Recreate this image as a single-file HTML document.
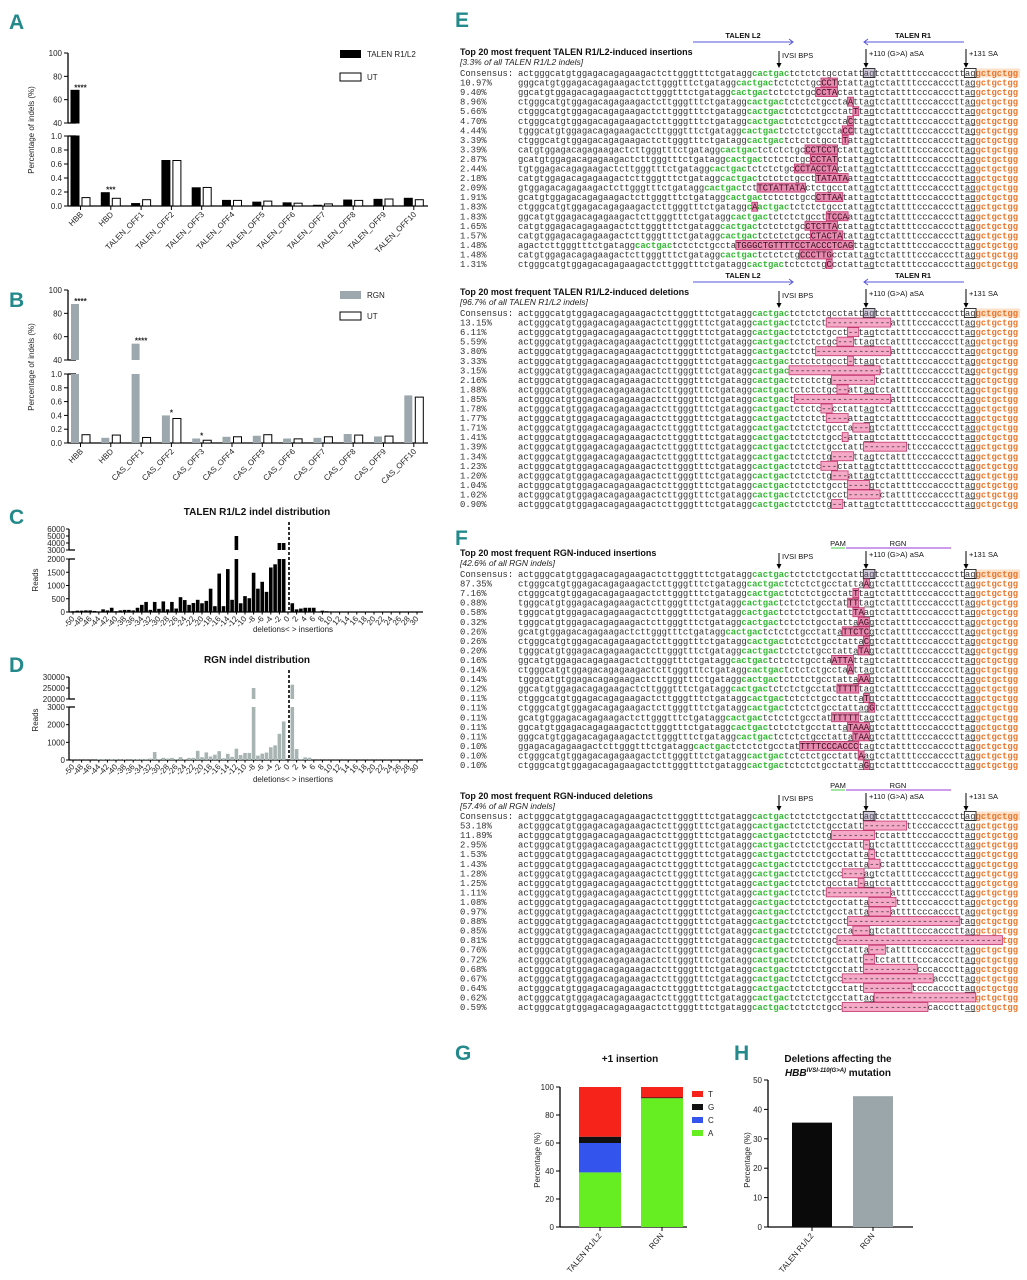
<!DOCTYPE html>
<html><head><meta charset="utf-8"><title>Indel analysis figure</title>
<style>
html,body{margin:0;padding:0;background:#fff;}
svg{display:block;font-family:"Liberation Sans",sans-serif;}
.mono{font-family:"Liberation Mono",monospace;font-size:8.87px;}
.lt{font-size:21px;font-weight:bold;fill:#23898a;}
.tk{font-size:8px;fill:#222;}
.ttl{font-size:10px;font-weight:bold;fill:#111;}
.hd{font-size:9px;font-weight:bold;fill:#111;}
.sub{font-size:8.5px;font-style:italic;fill:#222;}
.al{font-size:7.5px;fill:#111;}
</style></head>
<body>
<svg id="fig" xmlns="http://www.w3.org/2000/svg" width="1027" height="1280" viewBox="0 0 1027 1280">
<rect x="0" y="0" width="1027" height="1280" fill="#fff"/>
<!-- panel letters -->
<text class="lt" x="9" y="29">A</text>
<text class="lt" x="9" y="307">B</text>
<text class="lt" x="9" y="524">C</text>
<text class="lt" x="9" y="672">D</text>
<text class="lt" x="455" y="27">E</text>
<text class="lt" x="455" y="545">F</text>
<text class="lt" x="455" y="1060">G</text>
<text class="lt" x="734" y="1060">H</text>

<!-- legends A/B -->
<rect x="340" y="50" width="21" height="8" fill="#000"/>
<text class="tk" x="367" y="57">TALEN R1/L2</text>
<rect x="340" y="73" width="21" height="8" fill="#fff" stroke="#000"/>
<text class="tk" x="367" y="80">UT</text>
<rect x="340" y="291" width="21" height="8" fill="#9ca8ad"/>
<text class="tk" x="367" y="298">RGN</text>
<rect x="340" y="312" width="21" height="8" fill="#fff" stroke="#000"/>
<text class="tk" x="367" y="319">UT</text>
<text class="tk" transform="translate(34,130) rotate(-90)" text-anchor="middle">Percentage of indels (%)</text>
<text class="tk" transform="translate(34,367) rotate(-90)" text-anchor="middle">Percentage of indels (%)</text>

<!-- C/D titles -->
<text class="ttl" x="257" y="515" text-anchor="middle">TALEN R1/L2 indel distribution</text>
<text class="ttl" x="257" y="663" text-anchor="middle">RGN indel distribution</text>
<text class="tk" transform="translate(38,580) rotate(-90)" text-anchor="middle">Reads</text>
<text class="tk" transform="translate(38,720) rotate(-90)" text-anchor="middle">Reads</text>
<text class="tk" x="293" y="632" text-anchor="middle">deletions&lt; &gt; insertions</text>
<text class="tk" x="293" y="782" text-anchor="middle">deletions&lt; &gt; insertions</text>

<!-- E/F headers -->
<text class="hd" x="460" y="55">Top 20 most frequent TALEN R1/L2-induced insertions</text>
<text class="sub" x="460" y="65">[3.3% of all TALEN R1/L2 indels]</text>
<text class="hd" x="460" y="295">Top 20 most frequent TALEN R1/L2-induced deletions</text>
<text class="sub" x="460" y="305">[96.7% of all TALEN R1/L2 indels]</text>
<text class="hd" x="460" y="556">Top 20 most frequent RGN-induced insertions</text>
<text class="sub" x="460" y="566">[42.6% of all RGN indels]</text>
<text class="hd" x="460" y="799">Top 20 most frequent RGN-induced deletions</text>
<text class="sub" x="460" y="809">[57.4% of all RGN indels]</text>

<!-- G/H titles -->
<text class="ttl" x="630" y="1062" text-anchor="middle">+1 insertion</text>
<text class="ttl" x="838" y="1062" text-anchor="middle">Deletions affecting the</text>
<text class="ttl" x="838" y="1076" text-anchor="middle"><tspan font-style="italic">HBB</tspan><tspan font-size="6" font-style="italic" dy="-4">IVSI-110(G&gt;A)</tspan><tspan dy="4"> mutation</tspan></text>
<text class="tk" transform="translate(540,1160) rotate(-90)" text-anchor="middle">Percentage (%)</text>
<text class="tk" transform="translate(750,1160) rotate(-90)" text-anchor="middle">Percentage (%)</text>
</svg>

<script>
// ===== Panel A / B data =====
const catsA = ['HBB','HBD','TALEN_OFF1','TALEN_OFF2','TALEN_OFF3','TALEN_OFF4','TALEN_OFF5','TALEN_OFF6','TALEN_OFF7','TALEN_OFF8','TALEN_OFF9','TALEN_OFF10'];
const talenVals = [68,0.19,0.035,0.65,0.26,0.08,0.055,0.045,0.01,0.085,0.095,0.11];
const utValsA = [0.12,0.11,0.09,0.65,0.265,0.08,0.07,0.04,0.03,0.08,0.1,0.09];
const starsA = ['****','***','','','','','','','','','',''];
const catsB = ['HBB','HBD','CAS_OFF1','CAS_OFF2','CAS_OFF3','CAS_OFF4','CAS_OFF5','CAS_OFF6','CAS_OFF7','CAS_OFF8','CAS_OFF9','CAS_OFF10'];
const rgnVals = [88,0.075,54,0.4,0.065,0.09,0.105,0.065,0.075,0.13,0.095,0.69];
const utValsB = [0.12,0.115,0.08,0.355,0.04,0.09,0.12,0.06,0.09,0.115,0.1,0.665];
const starsB = ['****','','****','*','*','','','','','','',''];
const lowTicks = [0,0.2,0.4,0.6,0.8,1.0];
const highTicks = [40,60,80,100];

// ===== Panel C / D data (indel size -50..30) =====
const indelSizes = [];
for (let s = -50; s <= 30; s++) indelSizes.push(s);
const talenReads = [30,50,50,60,60,40,20,100,60,160,30,60,80,80,60,160,270,380,80,380,120,400,100,380,130,560,450,270,340,460,330,420,880,220,1450,220,1620,460,5000,330,600,520,1480,880,1140,760,1680,1800,4000,4000,0,330,100,130,160,160,160,20,50,30,10,10,10,10,10,10,10,10,10,10,10,10,10,10,10,20,10,10,10,10,10];
const rgnReads = [10,10,10,10,10,10,50,50,20,40,40,20,40,20,40,40,60,60,80,450,60,120,80,120,50,160,40,120,120,520,160,430,200,300,500,100,350,180,640,280,400,400,25000,250,360,420,720,830,1480,2180,0,26500,620,60,150,130,10,10,10,10,10,10,10,10,10,10,10,10,10,10,10,10,10,10,10,10,10,10,10,10,10];
const cLowTicks = [0,500,1000,1500,2000];
const cHighTicks = [3000,4000,5000,6000];
const dLowTicks = [0,1000,2000,3000];
const dHighTicks = [20000,25000,30000];

// ===== Panel G / H data =====
const gCats = ['TALEN R1/L2','RGN'];
const gA = [39,92];
const gC = [21,0];
const gG = [4.5,0.5];
const gT = [35.5,7.5];
const gTicks = [0,20,40,60,80,100];
const hCats = ['TALEN R1/L2','RGN'];
const hVals = [35.5,44.5];
const hTicks = [0,10,20,30,40,50];

// ===== Sequence data =====
const consensus = 'actgggcatgtggagacagagaagactcttgggtttctgataggcactgactctctctgcctattagtctattttcccacccttaggctgctgg';
const eInsPct = ['10.97%','9.40%','8.96%','5.66%','4.70%','4.44%','3.39%','3.39%','2.87%','2.44%','2.18%','2.09%','1.91%','1.83%','1.83%','1.65%','1.57%','1.48%','1.48%','1.31%'];
const eInsSeq = ['CCT','CCTA','A','T','C','CC','T','CCTCCT','CCTAT','CCTACCTA','TATATA','TCTATTATA','CTTAA','A','TCCA','CTCTTA','CTACTA','TGGGCTGTTTTCCTACCCTCAG','CCCTTG','C'];
const eInsPos = [60,60,63,64,63,63,62,60,60,60,62,54,61,45,62,60,61,63,59,59];
const eDelPct = ['13.15%','6.11%','5.59%','3.80%','3.33%','3.15%','2.16%','1.88%','1.85%','1.78%','1.77%','1.71%','1.41%','1.39%','1.34%','1.23%','1.20%','1.04%','1.02%','0.90%'];
const eDelStart = [58,62,60,56,62,51,59,60,52,57,58,63,61,65,59,57,59,62,62,59];
const eDelLen = [12,2,3,14,1,17,8,2,18,2,4,3,1,8,4,3,3,4,6,2];
const fInsPct = ['87.35%','7.16%','0.88%','0.58%','0.32%','0.26%','0.26%','0.20%','0.16%','0.14%','0.14%','0.12%','0.11%','0.11%','0.11%','0.11%','0.11%','0.10%','0.10%','0.10%'];
const fInsSeq = ['A','T','TT','TA','AG','TTCTC','C','TA','ATTA','A','AA','TTTT','T','G','TTTTT','TAAA','TAA','TTTTCCCACCC','A','G'];
const fInsPos = [66,64,64,65,66,66,66,66,63,63,66,64,66,67,64,66,66,64,65,66];
const fDelPct = ['53.18%','11.89%','2.95%','1.53%','1.43%','1.28%','1.25%','1.11%','1.08%','0.97%','0.88%','0.85%','0.81%','0.76%','0.72%','0.68%','0.67%','0.64%','0.62%','0.59%'];
const fDelStart = [65,59,65,66,66,61,64,58,66,66,62,63,60,66,65,65,61,65,67,61];
const fDelLen = [8,8,1,1,2,4,1,12,5,4,21,3,31,3,2,10,17,9,19,16];

const NS = 'http://www.w3.org/2000/svg';
const svg = document.getElementById('fig');
function mk(tag, a) { const e = document.createElementNS(NS, tag); for (const k in a) e.setAttribute(k, a[k]); svg.appendChild(e); return e; }
function tx(str, a) { const e = mk('text', a); e.textContent = str; return e; }

// ===== A/B bar chart =====
function barChart(cats, v1, v2, stars, fill1, top, y40, y1, y0, pre) {
  const xAx = 68, xEnd = 428;
  const lowScale = (y0 - y1);
  const hiScale = (y40 - top) / 60;
  const yLow = v => y0 - v * lowScale;
  const yHigh = v => y40 - (v - 40) * hiScale;
  let e;
  e = mk('line', {x1:xAx, y1:top, x2:xAx, y2:y40, stroke:'#000', 'stroke-width':1.3});
  
  
  e = mk('line', {x1:xAx, y1:y1, x2:xAx, y2:y0, stroke:'#000', 'stroke-width':1.3});
  
  
  e = mk('line', {x1:xAx, y1:y0, x2:xEnd, y2:y0, stroke:'#000', 'stroke-width':1.3});
  
  
  lowTicks.forEach(t => {
    const y = yLow(t);
    e = mk('line', {x1:xAx-4, y1:y, x2:xAx, y2:y, stroke:'#000'});
    
    
    e = tx(t.toFixed(1), {x:xAx-6, y:y+3, 'text-anchor':'end', class:'tk'});
    
    
  });
  highTicks.forEach(t => {
    const y = yHigh(t);
    e = mk('line', {x1:xAx-4, y1:y, x2:xAx, y2:y, stroke:'#000'});
    
    
    e = tx(String(t), {x:xAx-6, y:y+3, 'text-anchor':'end', class:'tk'});
    
    
  });
  [y40, y1].forEach(y => {
    e = mk('line', {x1:xAx, y1:y, x2:xAx+8, y2:y, stroke:'#000', 'stroke-width':1.3});
    
    
  });
  const step = 30.3;
  cats.forEach((c, i) => {
    const bx = 71 + i * step, ux = bx + 11, w = 8, cx = bx + 9.5;
    const drawBar = (x, v, f, st, nm) => {
      if (v <= 1) {
        e = mk('rect', {x:x, y:yLow(v), width:w, height:y0 - yLow(v), fill:f, stroke:st, 'stroke-width':1});
        
        
      } else {
        e = mk('rect', {x:x, y:y1, width:w, height:y0 - y1, fill:f, stroke:st, 'stroke-width':1});
        
        
        e = mk('rect', {x:x, y:yHigh(v), width:w, height:y40 - yHigh(v), fill:f, stroke:st, 'stroke-width':1});
        
        
      }
    };
    drawBar(bx, v1[i], fill1, fill1 === '#000' ? '#000' : 'none', pre + '-bar-treated-' + c.toLowerCase());
    drawBar(ux, v2[i], '#fff', '#000', pre + '-bar-ut-' + c.toLowerCase());
    e = mk('line', {x1:cx, y1:y0, x2:cx, y2:y0+4, stroke:'#000'});
    
    
    e = tx(c, {x:cx+3, y:y0+9, 'text-anchor':'end', class:'tk', transform:'rotate(-45 ' + (cx+3) + ' ' + (y0+9) + ')'});
    
    
    if (stars[i]) {
      const v = Math.max(v1[i], v2[i]);
      const yy = (v1[i] <= 1 ? yLow(v1[i]) : yHigh(v1[i])) - 3;
      e = tx(stars[i], {x:cx, y:yy + 3, 'text-anchor':'middle', class:'tk', 'font-weight':'bold'});
      
      
    }
  });
}
barChart(catsA, talenVals, utValsA, starsA, '#000', 53, 123, 136, 206, 'a');
barChart(catsB, rgnVals, utValsB, starsB, '#9ca8ad', 290, 360, 374, 443, 'b');

// ===== C/D histograms =====
function hist(vals, lowT, highT, lowMax, hiMin, hiMax, yHiTop, yHiBot, yLowTop, y0, col, pre, titleTop) {
  const xAx = 69, xEnd = 423;
  const xs = s => 73 + (s + 50) * 4.3;
  const yLow = v => y0 - v * (y0 - yLowTop) / lowMax;
  const yHigh = v => yHiBot - (v - hiMin) * (yHiBot - yHiTop) / (hiMax - hiMin);
  let e;
  e = mk('line', {x1:xAx, y1:yHiTop, x2:xAx, y2:yHiBot, stroke:'#000', 'stroke-width':1.3});
  
  
  e = mk('line', {x1:xAx, y1:yLowTop, x2:xAx, y2:y0, stroke:'#000', 'stroke-width':1.3});
  
  
  e = mk('line', {x1:xAx, y1:y0, x2:xEnd, y2:y0, stroke:'#000', 'stroke-width':1.3});
  
  
  [yHiBot, yLowTop].forEach(y => {
    e = mk('line', {x1:xAx, y1:y, x2:xAx+6, y2:y, stroke:'#000', 'stroke-width':1.3});
    
    
  });
  lowT.forEach(t => {
    const y = yLow(t);
    e = mk('line', {x1:xAx-3, y1:y, x2:xAx, y2:y, stroke:'#000'});
    
    
    e = tx(String(t), {x:xAx-4, y:y+3, 'text-anchor':'end', class:'tk'});
    
    
  });
  highT.forEach(t => {
    const y = yHigh(t);
    e = mk('line', {x1:xAx-3, y1:y, x2:xAx, y2:y, stroke:'#000'});
    
    
    e = tx(String(t), {x:xAx-4, y:y+3, 'text-anchor':'end', class:'tk'});
    
    
  });
  indelSizes.forEach((s, i) => {
    const v = vals[i], x = xs(s) - 1.8, w = 3.6;
    if (v <= lowMax) {
      e = mk('rect', {x:x, y:yLow(v), width:w, height:y0 - yLow(v), fill:col});
      
      
    } else {
      e = mk('rect', {x:x, y:yLowTop, width:w, height:y0 - yLowTop, fill:col});
      
      
      e = mk('rect', {x:x, y:yHigh(v), width:w, height:yHiBot - yHigh(v), fill:col});
      
      
    }
    if (s % 2 === 0) {
      const xx = xs(s);
      e = mk('line', {x1:xx, y1:y0, x2:xx, y2:y0+2.5, stroke:'#000'});
      
      
      e = tx(String(s), {x:xx+2, y:y0+7, 'text-anchor':'end', class:'tk', 'font-size':'7', transform:'rotate(-50 ' + (xx+2) + ' ' + (y0+7) + ')'});
      
      
    }
  });
  e = mk('line', {x1:xs(0)+1, y1:titleTop, x2:xs(0)+1, y2:y0, stroke:'#000', 'stroke-width':1.6, 'stroke-dasharray':'3,2'});
  
  
}
hist(talenReads, cLowTicks, cHighTicks, 2000, 3000, 6000, 529, 550, 559, 612, '#000', 'c', 522);
hist(rgnReads, dLowTicks, dHighTicks, 3000, 20000, 30000, 677, 699, 707, 760, '#a8b4b2', 'd', 670);

// ===== G stacked bars =====
(function(){
  const xAx = 560, y0 = 1227, yv = v => y0 - v * 1.4;
  let e;
  e = mk('line', {x1:xAx, y1:yv(100), x2:xAx, y2:y0, stroke:'#000', 'stroke-width':1.3});
  
  
  e = mk('line', {x1:xAx, y1:y0, x2:687, y2:y0, stroke:'#000', 'stroke-width':1.3});
  
  
  gTicks.forEach(t => {
    e = mk('line', {x1:xAx-4, y1:yv(t), x2:xAx, y2:yv(t), stroke:'#000'});
    
    
    e = tx(String(t), {x:xAx-6, y:yv(t)+3, 'text-anchor':'end', class:'tk'});
    
    
  });
  const series = [['A', gA, '#66ee22'], ['C', gC, '#3355ee'], ['G', gG, '#111'], ['T', gT, '#f5231a']];
  const bxs = [579, 641];
  gCats.forEach((c, i) => {
    let acc = 0;
    series.forEach(s => {
      const v = s[1][i];
      e = mk('rect', {x:bxs[i], y:yv(acc + v), width:42, height:v * 1.4, fill:s[2]});
      
      
      acc += v;
    });
    const cx = bxs[i] + 21;
    e = mk('line', {x1:cx, y1:y0, x2:cx, y2:y0+4, stroke:'#000'});
    
    
    e = tx(c, {x:cx+2, y:y0+9, 'text-anchor':'end', class:'tk', transform:'rotate(-50 ' + (cx+2) + ' ' + (y0+9) + ')'});
    
    
  });
  const leg = [['T','#f5231a'],['G','#111'],['C','#3355ee'],['A','#66ee22']];
  leg.forEach((l, i) => {
    const y = 1091 + i * 13;
    e = mk('rect', {x:692, y:y, width:11, height:6, fill:l[1]});
    
    
    e = tx(l[0], {x:708, y:y+6, class:'tk'});
    
    
  });
})();

// ===== H bars =====
(function(){
  const xAx = 768, y0 = 1227, yv = v => y0 - v * 2.94;
  let e;
  e = mk('line', {x1:xAx, y1:yv(50), x2:xAx, y2:y0, stroke:'#000', 'stroke-width':1.3});
  
  
  e = mk('line', {x1:xAx, y1:y0, x2:913, y2:y0, stroke:'#000', 'stroke-width':1.3});
  
  
  hTicks.forEach(t => {
    e = mk('line', {x1:xAx-4, y1:yv(t), x2:xAx, y2:yv(t), stroke:'#000'});
    
    
    e = tx(String(t), {x:xAx-6, y:yv(t)+3, 'text-anchor':'end', class:'tk'});
    
    
  });
  const bxs = [792, 853], cols = ['#0a0a0a', '#9ba6ab'];
  hCats.forEach((c, i) => {
    e = mk('rect', {x:bxs[i], y:yv(hVals[i]), width:40, height:hVals[i] * 2.94, fill:cols[i]});
    
    
    const cx = bxs[i] + 20;
    e = mk('line', {x1:cx, y1:y0, x2:cx, y2:y0+4, stroke:'#000'});
    
    
    e = tx(c, {x:cx+2, y:y0+9, 'text-anchor':'end', class:'tk', transform:'rotate(-50 ' + (cx+2) + ' ' + (y0+9) + ')'});
    
    
  });
})();

// ===== Sequence alignments =====
const CW = 5.32, SX = 518, RS = 9.55;
function styleOf(k) {
  if (k >= 44 && k <= 50) return 'g';
  if (k >= 86) return 'o';
  return 'n';
}
const colMap = {n:'#333', g:'#33b833', o:'#e8762c', i:'#3a0a1a', d:'#333'};
function drawRow(chars, yc, pct, pre, isCons) {
  let e;
  e = tx(pct, {x:460, y:yc+3, class:'mono', fill:'#333'});
  
  
  if (isCons) {
    e = mk('rect', {x:SX + 86*CW, y:yc-4.5, width:8*CW+2, height:9, fill:'#fde0c8'});
    
    
  }
  // highlight boxes
  let i = 0;
  while (i < chars.length) {
    const t = chars[i].s;
    if (t === 'i' || t === 'd') {
      let j = i; while (j < chars.length && chars[j].s === t) j++;
      e = mk('rect', {x:SX + i*CW - 0.3, y:yc-4.5, width:(j-i)*CW + 0.6, height:9, fill: t === 'i' ? '#e58aae' : '#f6a9c6', stroke:'#c2336c', 'stroke-width':0.8});
      
      
      i = j;
    } else i++;
  }
  // text runs
  i = 0;
  while (i < chars.length) {
    const t = chars[i].s; let j = i, str = '';
    while (j < chars.length && chars[j].s === t) { str += chars[j].c; j++; }
    e = tx(str, {x:SX + i*CW, y:yc+3, class:'mono', fill:colMap[t], textLength:(j-i)*CW, lengthAdjust:'spacingAndGlyphs', 'font-weight': (t === 'g' || t === 'o') ? 'bold' : 'normal'});
    
    
    i = j;
  }
  // ag markers
  chars.forEach((ch, d) => {
    if (ch.k === 65 || ch.k === 84) {
      if (isCons) {
        e = mk('rect', {x:SX + d*CW - 0.5, y:yc-4.5, width:2*CW + 1, height:9, fill: ch.k === 65 ? 'rgba(120,100,150,0.35)' : 'none', stroke:'#222', 'stroke-width':0.9});
        
        
      }
    }
    if (!isCons && (ch.k === 65 || ch.k === 66 || ch.k === 84 || ch.k === 85) && ch.s !== 'd') {
      e = mk('line', {x1:SX + d*CW, y1:yc+4.3, x2:SX + (d+1)*CW, y2:yc+4.3, stroke:'#333', 'stroke-width':0.7});
      
      
    }
  });
}
function consChars() { return consensus.split('').map((c, k) => ({c:c, k:k, s:styleOf(k)})); }
function insChars(ins, pos) {
  const L = ins.length, out = [];
  for (let k = L; k < pos; k++) out.push({c:consensus[k], k:k, s:styleOf(k)});
  for (let j = 0; j < L; j++) out.push({c:ins[j], k:-1, s:'i'});
  for (let k = pos; k < consensus.length; k++) out.push({c:consensus[k], k:k, s:styleOf(k)});
  return out;
}
function delChars(st, len) {
  return consensus.split('').map((c, k) => (k >= st && k < st + len) ? {c:'-', k:k, s:'d'} : {c:c, k:k, s:styleOf(k)});
}
function arrows(yTop, yEnd, labY, pre) {
  const pts = [[779, 'IVSI BPS'], [866, '+110 (G>A) aSA'], [966, '+131 SA']];
  let e;
  pts.forEach((p, i) => {
    const yt = i === 0 ? yTop + 2 : yTop;
    e = mk('line', {x1:p[0], y1:yt, x2:p[0], y2:yEnd - 3, stroke:'#000', 'stroke-width':1});
    
    
    e = mk('path', {d:'M' + (p[0]-2.5) + ' ' + (yEnd-5) + ' L' + (p[0]+2.5) + ' ' + (yEnd-5) + ' L' + p[0] + ' ' + (yEnd) + ' Z', fill:'#000'});
    
    
    e = tx(p[1], {x:p[0] + 3, y:(i === 0 ? labY + 2 : labY), class:'al'});
    
    
  });
}
function talenBars(yl, pre) {
  let e;
  e = mk('line', {x1:693, y1:yl, x2:793, y2:yl, stroke:'#5555dd', 'stroke-width':1});
  
  
  e = mk('path', {d:'M789 ' + (yl-3) + ' L793 ' + yl + ' L789 ' + (yl+3), fill:'none', stroke:'#5555dd'});
  
  
  e = tx('TALEN L2', {x:743, y:yl-4, 'text-anchor':'middle', class:'al', fill:'#3a3ad0', 'font-weight':'bold'});
  
  
  e = mk('line', {x1:864, y1:yl, x2:964, y2:yl, stroke:'#5555dd', 'stroke-width':1});
  
  
  e = mk('path', {d:'M868 ' + (yl-3) + ' L864 ' + yl + ' L868 ' + (yl+3), fill:'none', stroke:'#5555dd'});
  
  
  e = tx('TALEN R1', {x:913, y:yl-4, 'text-anchor':'middle', class:'al', fill:'#3a3ad0', 'font-weight':'bold'});
  
  
}
function rgnBars(yl, pre) {
  let e;
  e = mk('line', {x1:831, y1:yl, x2:845, y2:yl, stroke:'#44cc44', 'stroke-width':1});
  
  
  e = tx('PAM', {x:838, y:yl-2, 'text-anchor':'middle', class:'al', fill:'#44cc44', 'font-size':'6.5'});
  
  
  e = mk('line', {x1:846, y1:yl, x2:951, y2:yl, stroke:'#b060e0', 'stroke-width':1.2});
  
  
  e = tx('RGN', {x:898, y:yl-2, 'text-anchor':'middle', class:'al', fill:'#b060e0', 'font-size':'6.5'});
  
  
}
function block(consY, pcts, rowFn, pre) {
  drawRow(consChars(), consY, 'Consensus:', pre, true);
  pcts.forEach((p, i) => drawRow(rowFn(i), consY + (i + 1) * RS, p, pre, false));
}
talenBars(42, 'e-ins');
arrows(49, 68, 56, 'e-ins');
block(73, eInsPct, i => insChars(eInsSeq[i], eInsPos[i]), 'e-ins');
talenBars(282, 'e-del');
arrows(289, 308, 296, 'e-del');
block(313, eDelPct, i => delChars(eDelStart[i], eDelLen[i]), 'e-del');
rgnBars(548, 'f-ins');
arrows(551, 569, 557, 'f-ins');
block(574, fInsPct, i => insChars(fInsSeq[i], fInsPos[i]), 'f-ins');
rgnBars(790, 'f-del');
arrows(793, 811, 799, 'f-del');
block(816, fDelPct, i => delChars(fDelStart[i], fDelLen[i]), 'f-del');
</script>
</body></html>
